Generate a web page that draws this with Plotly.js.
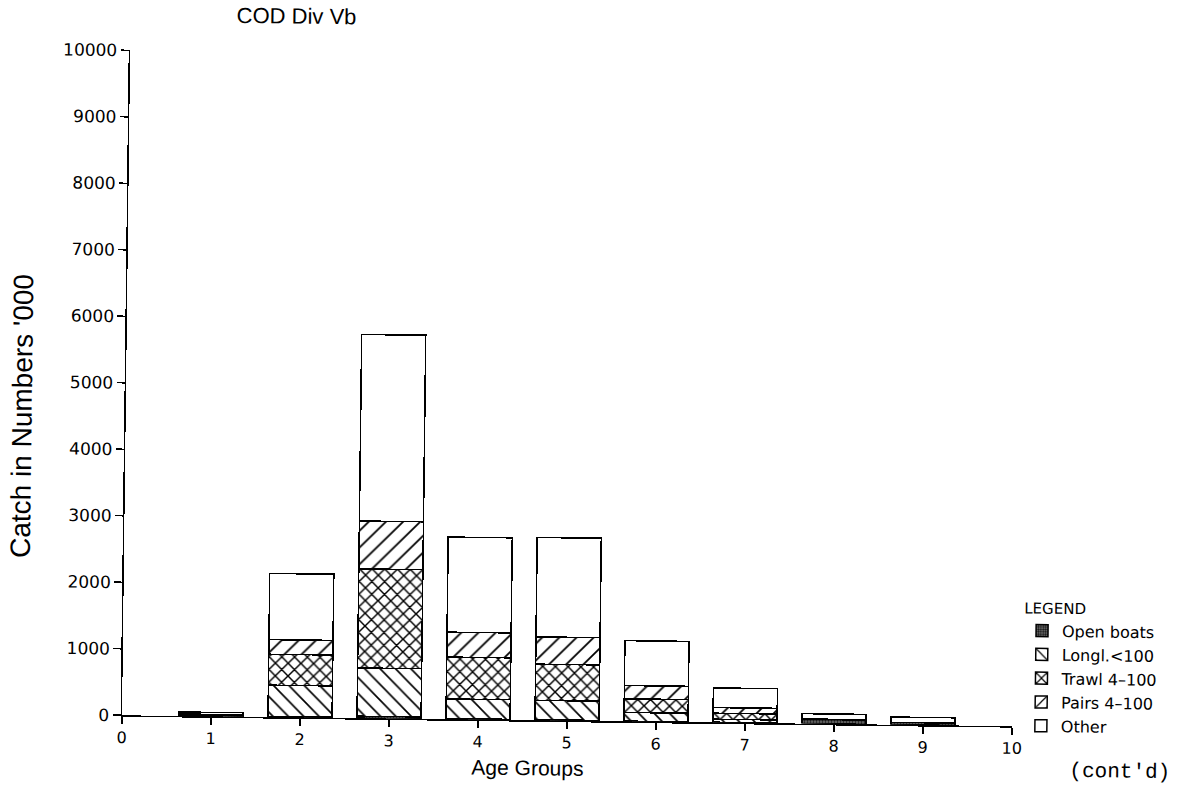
<!DOCTYPE html>
<html>
<head>
<meta charset="utf-8">
<script src="https://cdn.plot.ly/plotly-3.0.1.min.js"></script>
<style>
html,body{margin:0;padding:0;background:#fff;overflow:hidden;}
#chart{width:1184px;height:791px;transform:rotate(0.7deg);transform-origin:592px 395px;}
</style>
</head>
<body>
<div id="chart"></div>
<script>
// Age groups (x categories)
const ages = [1, 2, 3, 4, 5, 6, 7, 8, 9];
// Catch in numbers ('000) per fleet, stacked bottom to top
const openBoats = [15, 10, 30, 10, 10, 5, 5, 65, 35];
const longl100  = [15, 470, 725, 295, 290, 130, 45, 0, 0];
const trawl100  = [0, 465, 1490, 630, 545, 205, 90, 0, 0];
const pairs100  = [0, 220, 720, 375, 410, 200, 85, 5, 0];
const other     = [30, 995, 2805, 1430, 1495, 675, 295, 80, 80];

const seriesNames = ["Open boats", "Longl.<100", "Trawl 4\u2013100", "Pairs 4\u2013100", "Other"];
const xTicks = [0, 1, 2, 3, 4, 5, 6, 7, 8, 9, 10];
const yTicks = [0, 1000, 2000, 3000, 4000, 5000, 6000, 7000, 8000, 9000, 10000];

const line = {color: "#000", width: 1.5};
function bar(name, y, pattern, color) {
  return {
    type: "bar", name: name, x: ages, y: y, width: 0.72,
    marker: {color: color, line: line, pattern: pattern},
    hoverinfo: "skip"
  };
}
const data = [
  bar(seriesNames[0], openBoats, {shape: ".", fgcolor: "#111", bgcolor: "#777", size: 3, solidity: 0.5}, "#555"),
  bar(seriesNames[1], longl100, {shape: "\\", fgcolor: "#000", bgcolor: "#fff", size: 11, solidity: 0.15}, "#fff"),
  bar(seriesNames[2], trawl100, {shape: "x", fgcolor: "#000", bgcolor: "#fff", size: 9, solidity: 0.3}, "#fff"),
  bar(seriesNames[3], pairs100, {shape: "/", fgcolor: "#000", bgcolor: "#fff", size: 12, solidity: 0.15}, "#fff"),
  bar(seriesNames[4], other, {shape: ""}, "#fff")
];

const tickFont = {family: "DejaVu Sans, sans-serif", size: 16, color: "#000"};
const layout = {
  width: 1184, height: 791,
  margin: {l: 126, r: 168, t: 56, b: 70},
  paper_bgcolor: "#fff", plot_bgcolor: "#fff",
  barmode: "stack",
  showlegend: true,
  title: {text: "COD Div Vb", x: 232/1184, xanchor: "left", y: 0.985, yanchor: "top",
          font: {family: "Liberation Sans, sans-serif", size: 22, color: "#000"}},
  xaxis: {
    range: [0, 10], tickmode: "array", tickvals: xTicks, ticktext: xTicks.map(String),
    showline: true, linecolor: "#000", linewidth: 1.5, showgrid: false, zeroline: false,
    ticks: "outside", ticklen: 7, tickcolor: "#000", tickwidth: 1.5,
    tickfont: tickFont, fixedrange: true
  },
  yaxis: {
    range: [0, 10000], tickmode: "array", tickvals: yTicks, ticktext: yTicks.map(String),
    showline: true, linecolor: "#000", linewidth: 1.5, showgrid: false, zeroline: false,
    ticks: "outside", ticklen: 8, tickcolor: "#000", tickwidth: 1.5,
    tickfont: {family: "DejaVu Sans, sans-serif", size: 17, color: "#000"}, fixedrange: true
  },
  legend: {
    x: 1.01, xanchor: "left", y: 0.199, yanchor: "top",
    traceorder: "normal",
    title: {text: "LEGEND", font: {family: "DejaVu Sans, sans-serif", size: 15, color: "#000"}},
    font: {family: "DejaVu Sans, sans-serif", size: 16, color: "#000"},
    bgcolor: "rgba(0,0,0,0)", itemwidth: 30, tracegroupgap: 0
  },
  annotations: [
    {text: "Age Groups", xref: "paper", yref: "paper", x: (532-126)/890, y: -0.071,
     xanchor: "center", yanchor: "middle", showarrow: false,
     font: {family: "Liberation Sans, sans-serif", size: 21, color: "#000"}},
    {text: "Catch in Numbers '000", xref: "paper", yref: "paper", x: -0.117, y: (721-423)/665,
     xanchor: "center", yanchor: "middle", textangle: -90, showarrow: false,
     font: {family: "Liberation Sans, sans-serif", size: 28, color: "#000"}},
    {text: "(cont'd)", xref: "paper", yref: "paper", x: (1124-126)/890, y: -0.067,
     xanchor: "center", yanchor: "middle", showarrow: false,
     font: {family: "Liberation Mono, monospace", size: 21, color: "#000"}}
  ]
};
Plotly.newPlot("chart", data, layout, {staticPlot: true, displayModeBar: false});
</script>
</body>
</html>
